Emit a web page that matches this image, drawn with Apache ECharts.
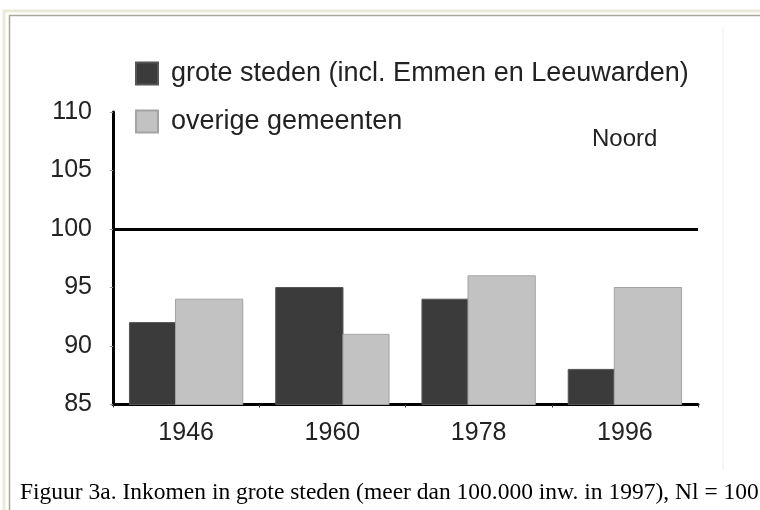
<!DOCTYPE html>
<html>
<head>
<meta charset="utf-8">
<script src="https://cdn.jsdelivr.net/npm/echarts@6/dist/echarts.min.js"></script>
<style>
  html, body { margin: 0; padding: 0; background: #fff; }
  #chart { width: 760px; height: 510px; }
</style>
</head>
<body>
<div id="chart"></div>
<script>
// data
var years = ['1946', '1960', '1978', '1996'];
var groteSteden = [92, 95, 94, 88];
var overigeGemeenten = [94, 91, 96, 95];
var yTicks = [85, 90, 95, 100, 105, 110];
var referenceLine = 100;

var seriesNames = ['grote steden (incl. Emmen en Leeuwarden)', 'overige gemeenten'];
var caption = 'Figuur 3a. Inkomen in grote steden (meer dan 100.000 inw. in 1997), Nl = 100';

var chartDom = document.getElementById('chart');
var myChart = echarts.init(chartDom, null, { renderer: 'canvas' });

var SANS = 'Liberation Sans, Arial, sans-serif';
var SERIF = 'Liberation Serif, Times New Roman, serif';

// in the picture the taller bar of each pair is drawn wider
function renderBar(params, api) {
    var i = api.value(0);
    var d = groteSteden[i], o = overigeGemeenten[i];
    var band = api.size([1, 0])[0];
    var narrow = band * 0.315, wide = band * 0.46;
    var dw = d > o ? wide : narrow;
    var ow = d > o ? narrow : wide;
    var center = api.coord([i, yTicks[0]])[0];
    var left = center - (dw + ow) / 2;
    var isDark = params.seriesIndex === 0;
    var x = isDark ? left : left + dw;
    var w = isDark ? dw : ow;
    var top = api.coord([i, api.value(1)])[1];
    var base = api.coord([i, yTicks[0]])[1];
    return {
        type: 'rect',
        shape: { x: x, y: top, width: w, height: base - top },
        style: api.style()
    };
}

var option = {
    backgroundColor: '#fff',
    animation: false,
    grid: {
        left: 113,
        right: 62,
        top: 112,
        bottom: 105.5
    },
    legend: {
        orient: 'vertical',
        left: 130,
        top: 55,
        itemGap: 21,
        itemWidth: 22,
        itemHeight: 22,
        icon: 'rect',
        data: seriesNames,
        textStyle: {
            fontFamily: SANS,
            fontSize: 27,
            color: '#222',
            padding: [0, 0, 0, 8]
        }
    },
    xAxis: {
        type: 'category',
        data: years,
        boundaryGap: true,
        axisLine: { show: true, lineStyle: { color: '#000', width: 3 } },
        axisTick: { show: true, length: 3, lineStyle: { color: '#333', width: 1 } },
        axisLabel: {
            margin: 16,
            fontFamily: SANS,
            fontSize: 25,
            color: '#222'
        },
        splitLine: { show: false }
    },
    yAxis: {
        type: 'value',
        min: yTicks[0],
        max: yTicks[yTicks.length - 1],
        interval: 5,
        axisLine: { show: true, lineStyle: { color: '#000', width: 3 } },
        axisTick: { show: true, length: 3, lineStyle: { color: '#999', width: 1 } },
        axisLabel: {
            margin: 21,
            fontFamily: SANS,
            fontSize: 25,
            color: '#222'
        },
        splitLine: { show: false }
    },
    graphic: [
        // page frame
        {
            type: 'rect', silent: true, z: -10,
            shape: { x: 4, y: 11, width: 800, height: 600 },
            style: { fill: 'none', stroke: '#ece9d8', lineWidth: 3 }
        },
        {
            type: 'rect', silent: true, z: -10,
            shape: { x: 9.5, y: 15.5, width: 800, height: 600 },
            style: { fill: 'none', stroke: '#aca899', lineWidth: 1.5 }
        },
        {
            type: 'line', silent: true, z: -10,
            shape: { x1: 723, y1: 27, x2: 723, y2: 470 },
            style: { stroke: '#eeeeee', lineWidth: 1 }
        },
        {
            type: 'text', left: 592, top: 127,
            style: { text: 'Noord', fontFamily: SANS, fontSize: 24, fill: '#222' }
        },
        {
            type: 'text', left: 20, top: 481,
            style: { text: caption, fontFamily: SERIF, fontSize: 23.5, fill: '#000' }
        }
    ],
    series: [
        {
            name: seriesNames[0],
            type: 'custom',
            renderItem: renderBar,
            encode: { x: 0, y: 1 },
            itemStyle: { color: '#3b3b3b', borderColor: '#555', borderWidth: 1 },
            data: groteSteden.map(function (v, i) { return [i, v]; }),
            markLine: {
                silent: true,
                symbol: 'none',
                label: { show: false },
                lineStyle: { color: '#000', width: 3, type: 'solid' },
                data: [{ yAxis: referenceLine }]
            }
        },
        {
            name: seriesNames[1],
            type: 'custom',
            renderItem: renderBar,
            encode: { x: 0, y: 1 },
            itemStyle: { color: '#c2c2c2', borderColor: '#a3a3a3', borderWidth: 1 },
            data: overigeGemeenten.map(function (v, i) { return [i, v]; })
        }
    ]
};

option && myChart.setOption(option);
</script>
</body>
</html>
